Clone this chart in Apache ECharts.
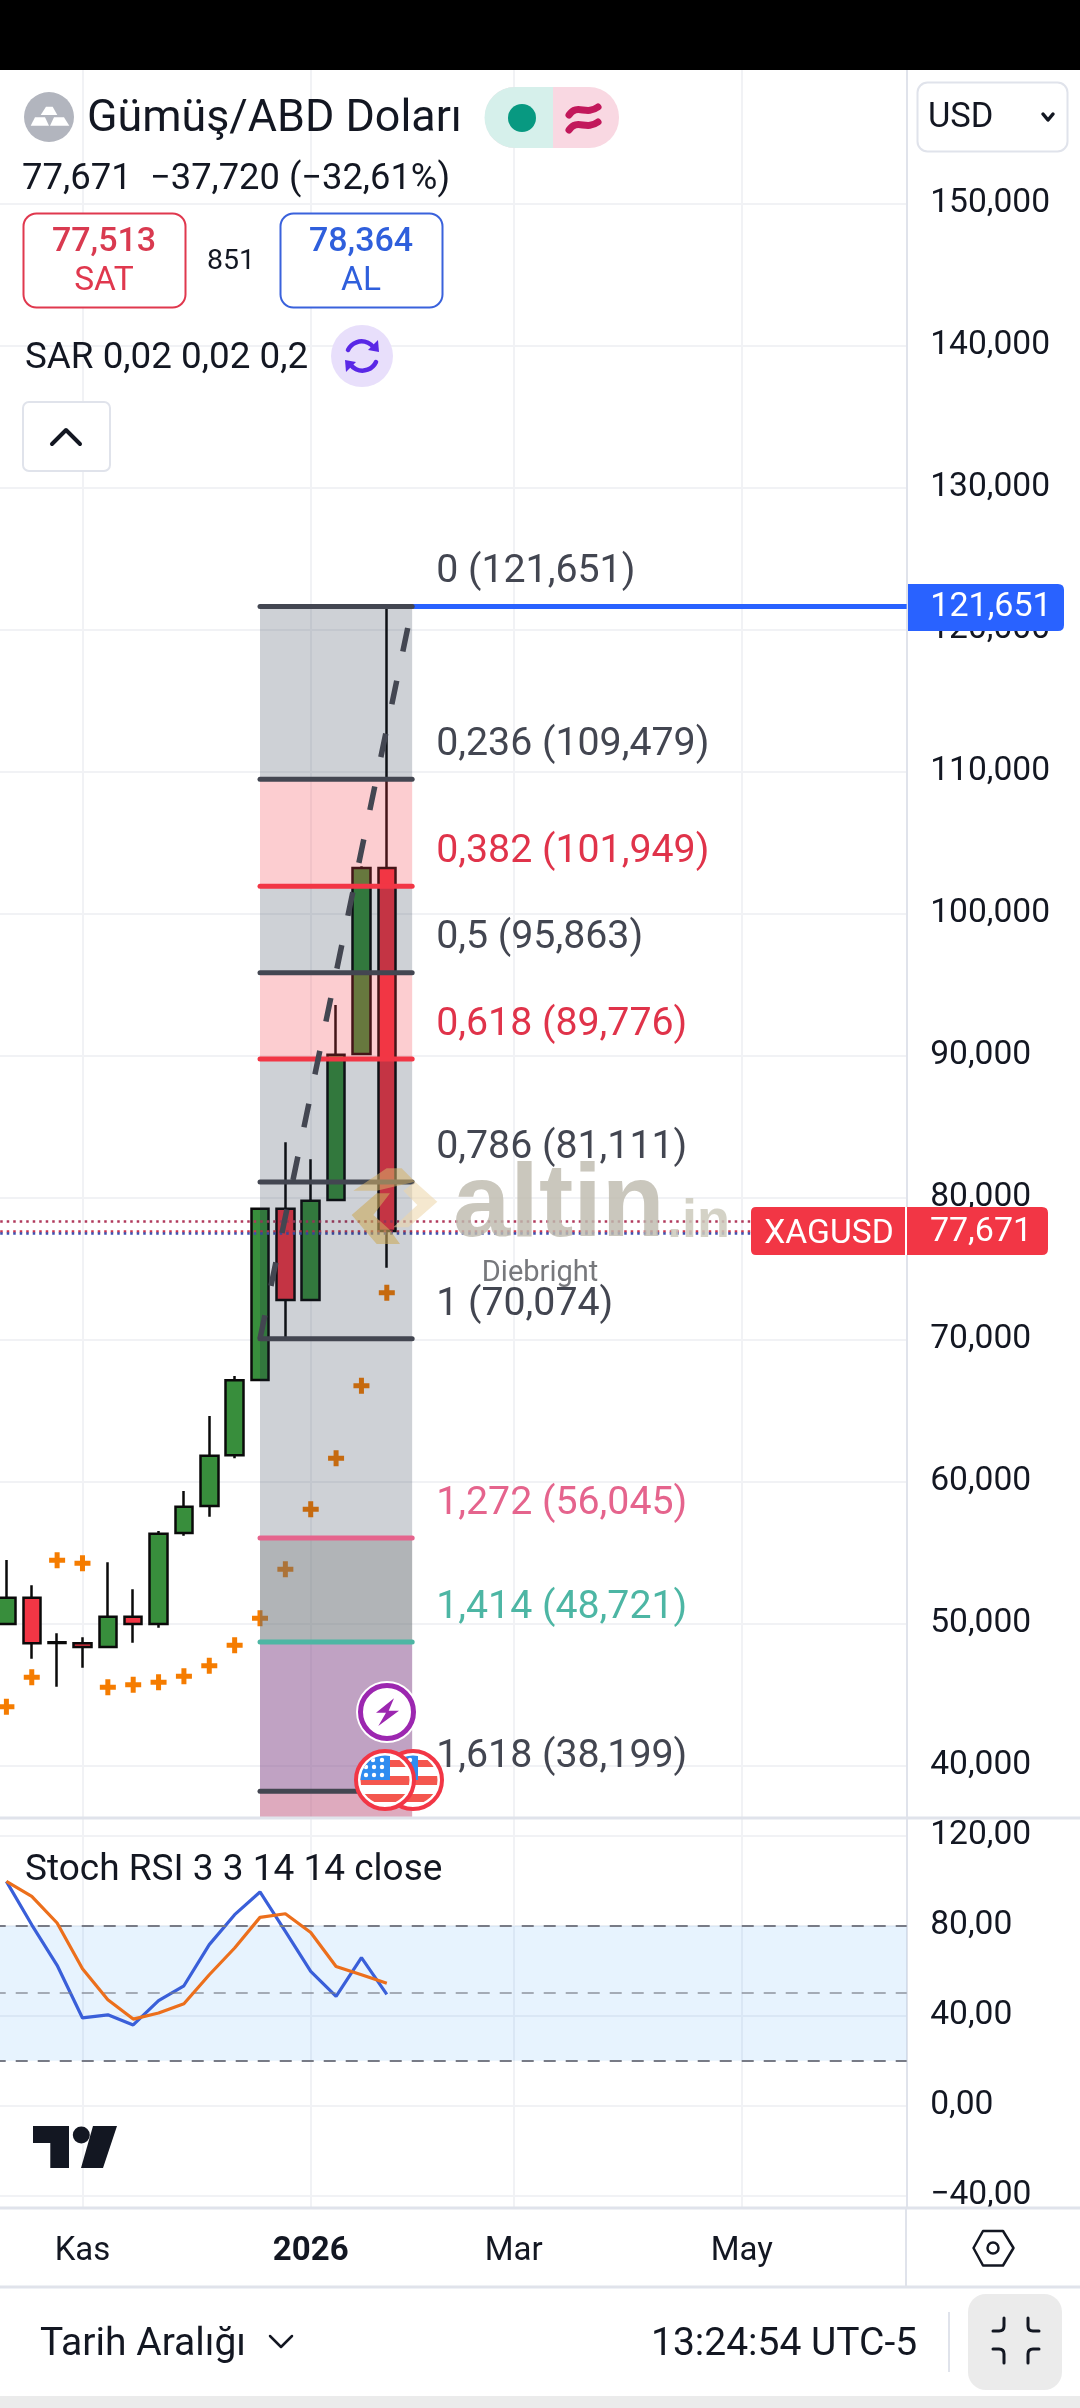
<!DOCTYPE html>
<html>
<head>
<meta charset="utf-8">
<style>html,body{margin:0;padding:0;background:#fff}#c{width:1080px;height:2408px}</style>
<script src="https://cdn.jsdelivr.net/npm/echarts@6/dist/echarts.min.js"></script>
</head>
<body>
<div id="c"></div>
<script>
// ---------- DATA ----------
const weeks = ['2025-10-12','2025-10-19','2025-10-26','2025-11-02','2025-11-09','2025-11-16','2025-11-23','2025-11-30','2025-12-07','2025-12-14','2025-12-21','2025-12-28','2026-01-04','2026-01-11','2026-01-18','2026-01-25','2026-02-01','2026-02-08','2026-02-15','2026-02-22','2026-03-01','2026-03-08','2026-03-15','2026-03-22','2026-03-29','2026-04-05','2026-04-12','2026-04-19','2026-04-26','2026-05-03','2026-05-10','2026-05-17','2026-05-24','2026-05-31','2026-06-07','2026-06-14'];
const xTickWeeks = ['2025-11-02','2026-01-04','2026-03-01','2026-05-03'];
const xTickLabels = ['Kas','2026','Mar','May'];
const opens  = [49.981,51.834,48.700,48.622,48.361,50.496,49.981,56.392,58.293,61.865,67.170,79.235,72.800,79.848,90.130,103.230];
const closes = [51.834,48.622,48.640,48.361,50.496,49.981,56.342,58.244,61.837,67.148,79.235,72.800,79.800,90.082,103.230,77.671];
const lows   = [49.981,47.537,45.565,46.903,48.361,48.665,49.721,56.201,57.540,61.653,67.170,70.074,72.800,79.848,90.130,75.080];
const highs  = [54.490,52.707,49.327,49.045,54.327,52.428,56.531,59.350,64.630,67.452,79.306,83.913,82.714,93.585,103.350,121.651];
const sar    = [44.156,46.227,54.468,54.257,45.523,45.706,45.875,46.298,47.044,48.481,50.383,53.834,58.062,61.653,66.767,73.320];
const stochK = [99.7,80.4,62.4,39.0,40.4,35.9,46.7,53.3,71.6,84.9,95.0,77.5,59.7,48.6,65.8,49.5];
const stochD = [99.7,93.0,81.2,60.9,47.1,38.5,41.2,45.3,58.2,70.1,83.7,85.3,77.0,61.9,58.2,54.4];
const priceTicks = [40,50,60,70,80,90,100,110,120,130,140,150];
const stochTicks = [-40,0,40,80,120];
const fibRatios = ['0','0,236','0,382','0,5','0,618','0,786','1','1,272','1,414','1,618'];
const fibPrices = [121.651,109.479,101.949,95.863,89.776,81.111,70.074,56.045,48.721,38.199];
const fibStartIdx = 10, fibEndIdx = 16;
const lastPrice = 77.671, askPrice = 78.364, bidPrice = 77.513;

// ---------- STYLE ----------
const FONT = 'Roboto';
const INK = '#131722', FIBGREY = '#434651', RED = '#f23645', BLUE = '#2962ff', GRID = '#f1f2f5', BORDER = '#e0e3eb';
const fibLineColors = [FIBGREY,FIBGREY,RED,FIBGREY,RED,FIBGREY,FIBGREY,'#e5648d','#4db6a4',FIBGREY];
const fibTextColors = [FIBGREY,FIBGREY,'#e0334a',FIBGREY,'#e0334a',FIBGREY,FIBGREY,'#e5648d','#4db6a4',FIBGREY];
const G='rgba(32,45,69,0.22)', P='rgba(242,54,69,0.25)';
const fibZoneColors = [G,P,G,P,G,G,G,'rgba(100,105,112,0.5)','rgba(130,70,135,0.5)','rgba(190,85,125,0.5)'];
const priceMin = 36.316, priceMax = 159.445, stochMin = -45.47, stochMax = 127.87;
const comma = (v,d) => v.toFixed(d).replace('.',',').replace('-','\u2212');

const cats = weeks;
const tickMap = {}; xTickWeeks.forEach((w,i)=>tickMap[w]=xTickLabels[i]);
const isTick = (i) => xTickWeeks.indexOf(weeks[i])>=0;

const flagSvg = 'data:image/svg+xml;charset=utf-8,' + encodeURIComponent(
 '<svg xmlns="http://www.w3.org/2000/svg" width="68" height="68" viewBox="0 0 68 68"><defs><clipPath id="c"><circle cx="34" cy="34" r="24.5"/></clipPath></defs>'+
 '<circle cx="34" cy="34" r="29" fill="#fff" stroke="#f23645" stroke-width="4"/><g clip-path="url(#c)">'+
 '<rect x="0" y="14" width="68" height="7" fill="#f4564e"/><rect x="0" y="30" width="68" height="9" fill="#f4564e"/><rect x="0" y="48" width="68" height="8" fill="#f4564e"/>'+
 '<rect x="0" y="0" width="39" height="34" fill="#2f8cf0"/>'+
 '<g fill="#fff"><circle cx="22" cy="14" r="2.2"/><circle cx="31" cy="14" r="2.2"/><circle cx="15" cy="21" r="2.2"/><circle cx="23" cy="21" r="2.2"/><circle cx="31" cy="21" r="2.2"/><circle cx="15" cy="29" r="2.2"/><circle cx="23" cy="29" r="2.2"/><circle cx="31" cy="29" r="2.2"/></g>'+
 '</g></svg>');

// ---------- HELPERS FOR PAGE CHROME ----------
const T=(text,x,y,size,fill,o={})=>({type:'text',z:o.z||100,x,y,silent:true,style:{text,fill,font:(o.weight||'normal')+' '+size+'px '+(o.family||FONT),textAlign:o.align||'left',textVerticalAlign:'middle',opacity:o.opacity==null?1:o.opacity}});
const R=(x,y,w,h,fill,o={})=>({type:'rect',z:o.z||90,silent:true,shape:{x,y,width:w,height:h,r:o.r||0},style:{fill:fill||'none',stroke:o.stroke||null,lineWidth:o.lw||0}});
const L=(x1,y1,x2,y2,stroke,lw,z)=>({type:'line',z:z||90,silent:true,shape:{x1,y1,x2,y2},style:{stroke,lineWidth:lw}});
const C=(cx,cy,r,fill,o={})=>({type:'circle',z:o.z||95,silent:true,shape:{cx,cy,r},style:{fill,stroke:o.stroke||null,lineWidth:o.lw||0}});
const PG=(pts,fill,z)=>({type:'polygon',z:z||95,silent:true,shape:{points:pts},style:{fill}});
let pathCount=0;
const pathType=(d)=>{const name='chromePath'+(pathCount++);echarts.graphic.registerShape(name,echarts.graphic.extendPath(d,{}));return name;};
const PH=(d,stroke,lw,z,fill)=>({type:pathType(d),z:z||95,silent:true,style:{stroke:stroke||null,lineWidth:lw||0,fill:fill||'none',lineCap:'round',lineJoin:'round'}});
const logoPts=a=>a.map(p=>[340+p[0]/3,1150+p[1]/3]);

const chrome=[
 // top status bar
 R(0,0,1080,70,'#000'),
 // separators
 L(0,1818,1080,1818,BORDER,3),L(0,2208,1080,2208,BORDER,3),L(0,2287,1080,2287,BORDER,3),L(906,2208,906,2287,BORDER,2),
 // header
 C(49,117,25,'#b2b5be'),
 PG([[46,106.7],[52.7,106.7],[57.3,115],[40.7,115]],'#fff',96),PG([[35,117.3],[45,117.3],[49,125.7],[30.7,125.7]],'#fff',96),PG([[54,117.3],[64,117.3],[69.3,125.7],[50,125.7]],'#fff',96),
 T('Gümüş/ABD Doları',87,120,44.8,INK),
 R(485,87,134,61,'#f9d8e2',{r:30}),
 PH('M553,87 H515 A30,30 0 0 0 515,148 H553 Z',null,0,91,'#d6f0eb'),
 C(522,118,14,'#089981'),
 PH('M569,115 C577,103 586,116 598,107','#c2185b',7),PH('M569,130 C577,118 586,131 598,122','#c2185b',7),
 T('77,671',22,180,36.5,INK),T('\u221237,720 (\u221232,61%)',150,180,36.3,INK),
 R(23.5,213.5,162,94,'#fff',{r:13,stroke:'#e0384e',lw:2}),
 T('77,513',104,242,34,'#d93a50',{align:'center',weight:'500'}),T('SAT',104,282,33.5,'#e0384e',{align:'center'}),
 T('851',231,262,28.5,INK,{align:'center'}),
 R(280.5,213.5,162,94,'#fff',{r:13,stroke:'#3a62dc',lw:2}),
 T('78,364',361,242,34,'#2f5fdc',{align:'center',weight:'500'}),T('AL',361,282,33.5,'#2f5fdc',{align:'center'}),
 T('SAR 0,02 0,02 0,2',25,359,36.8,INK),
 C(362,356,31,'#e8dffb'),
 PH('M348,350 A15,15 0 0 1 374,348','#5a28e6',4.5),PH('M376,362 A15,15 0 0 1 350,364','#5a28e6',4.5),
 PG([[378,340],[379,352],[368,350]],'#5a28e6'),PG([[346,372],[345,360],[356,362]],'#5a28e6'),
 R(23,402,87,69,'#fff',{r:6,stroke:BORDER,lw:2}),
 PH('M52,444 L66,430 L80,444',INK,4),
 // currency box
 R(917.5,82.5,150,69,'#fff',{r:10,stroke:BORDER,lw:2}),
 T('USD',928,118,34.5,INK),PH('M1043,114 L1048,120 L1053,114',INK,3.5),
 // indicator title + TradingView mark
 T('Stoch RSI 3 3 14 14 close',25,1871,37,INK),
 PG([[33,2126],[69,2126],[69,2168],[50.3,2168],[50.3,2143],[33,2143]],INK),C(81.3,2135,8.5,INK),PG([[93,2126],[117,2126],[103,2168],[81,2168]],INK),
 // settings icon
 PH('M983,2231 H1003 L1013.5,2248 L1003,2265.5 H983 L973.5,2248 Z',INK,2.5),
 C(993,2248,5.5,'none',{stroke:INK,lw:2.5}),
 // footer
 T('Tarih Aralığı',40,2345,39,INK),PH('M270,2336 L281,2347 L292,2336',INK,2.5),
 T('13:24:54 UTC-5',651,2345,39,INK),L(949,2312,949,2372,BORDER,2),
 R(968,2294,94,96,'#ebebeb',{r:18}),
 PH('M1004,2318 V2326 Q1004,2331 999,2331 H993',INK,3),PH('M1028,2318 V2326 Q1028,2331 1033,2331 H1039',INK,3),
 PH('M1004,2363 V2354 Q1004,2349 999,2349 H993',INK,3),PH('M1028,2363 V2354 Q1028,2349 1033,2349 H1039',INK,3),
 R(0,2396,1080,12,'#ebebeb'),
 // price labels
 PH('M908,584 H1058 Q1064,584 1064,590 V625 Q1064,631 1058,631 H908 Z',null,0,92,BLUE),
 T('121,651',991,607,34,'#fff',{align:'center',z:101}),
 PH('M751,1212 Q751,1207 756,1207 H1042 Q1048,1207 1048,1213 V1249 Q1048,1255 1042,1255 H756 Q751,1255 751,1250 Z',null,0,92,RED),
 L(906,1207,906,1255,'#fff',2,93),
 T('XAGUSD',829,1235,33.6,'#fff',{align:'center',z:101}),T('77,671',981,1232,34,'#fff',{align:'center',z:101}),
 // watermark
 PG(logoPts([[40,122],[140,55],[185,55],[225,95],[110,122]]),'rgba(214,178,105,0.55)',8),
 PG(logoPts([[225,95],[292,155],[205,232],[160,232],[232,165],[190,122]]),'rgba(236,214,168,0.55)',8),
 PG(logoPts([[35,195],[110,130],[150,130],[100,195],[150,240],[180,282],[110,282]]),'rgba(204,170,92,0.6)',8),
 T('altin',453,1208,103,'rgba(190,187,175,0.82)',{weight:'bold',family:'Liberation Sans',z:8}),
 T('.in',667,1222,54,'rgba(205,202,188,0.85)',{weight:'bold',family:'Liberation Sans',z:8}),
 T('Diebright',540,1274,29,'#77787c',{align:'center',z:8}),
 // event markers
 C(387,1712,31,'#fff',{z:94}),C(387,1712,26.5,'#fff',{stroke:'#9c27b0',lw:5}),
 PG([[394,1698.3],[376,1712.7],[386,1712.7],[378.3,1726],[399,1710.7],[388.7,1710.7]],'#9c27b0',96),
 {type:'image',z:94,silent:true,style:{image:flagSvg,x:379,y:1746,width:68,height:68}},
 {type:'image',z:95,silent:true,style:{image:flagSvg,x:351,y:1746,width:68,height:68}}
];

// ---------- CHART ----------
const chart = echarts.init(document.getElementById('c'),null,{renderer:'canvas',width:1080,height:2408});

const yAxisBase={type:'value',position:'right',scale:true,
 axisLine:{show:true,lineStyle:{color:BORDER,width:2}},axisPointer:{show:false}};

const plus='path://M2.75,0H5.25V2.75H8V5.25H5.25V8H2.75V5.25H0V2.75H2.75Z';

chart.setOption({
 animation:false,
 backgroundColor:'#ffffff',
 textStyle:{fontFamily:FONT},
 grid:[
  {left:-6.28,top:70,width:912.96,height:1748,outerBoundsMode:'none',containLabel:false},
  {left:-6.28,top:1818,width:912.96,height:390,outerBoundsMode:'none',containLabel:false}
 ],
 xAxis:[0,1].map(i=>({
  type:'category',gridIndex:i,data:cats,boundaryGap:true,
  axisLine:{show:false},axisTick:{show:false},
  axisLabel:i===0?{show:false}:{
    show:true,interval:(idx)=>isTick(idx),margin:27,fontFamily:FONT,fontSize:33,color:INK,
    formatter:(v)=>{const s=tickMap[v]||'';return s==='2026'?'{b|'+s+'}':s;},
    rich:{b:{fontWeight:'bold',fontSize:33,color:INK,fontFamily:FONT}}
  },
  splitLine:{show:true,alignWithLabel:true,interval:(idx)=>isTick(idx),lineStyle:{color:GRID,width:2}}
 })),
 yAxis:[
  Object.assign({},yAxisBase,{gridIndex:0,min:priceMin,max:priceMax,
    axisTick:{show:false,customValues:priceTicks},
    axisLabel:{customValues:priceTicks,align:'left',margin:23.5,fontFamily:FONT,fontSize:33.6,color:INK,padding:[3,0,0,0],formatter:v=>comma(v,3)},
    splitLine:{show:true,lineStyle:{color:GRID,width:2}}}),
  Object.assign({},yAxisBase,{gridIndex:1,min:stochMin,max:stochMax,
    axisTick:{show:false,customValues:stochTicks},
    axisLabel:{customValues:stochTicks,align:'left',margin:23.5,fontFamily:FONT,fontSize:33.6,color:INK,padding:[5,0,0,0],formatter:v=>comma(v,2)},
    splitLine:{show:true,lineStyle:{color:GRID,width:2}}})
 ],
 series:[
  {type:'candlestick',name:'XAGUSD',xAxisIndex:0,yAxisIndex:0,z:3,barWidth:18,
   data:opens.map((o,i)=>[o,closes[i],lows[i],highs[i]]),
   itemStyle:{color:'#388e3c',color0:RED,borderColor:'#0a0a0a',borderColor0:'#0a0a0a',borderWidth:2.5},
   markLine:{silent:true,symbol:'none',label:{show:false},animation:false,
    data:[
     {yAxis:askPrice,lineStyle:{color:'#b03a5c',type:[2.5,4],width:2.5}},
     {yAxis:lastPrice,lineStyle:{color:'#c7344e',type:[2.5,4],width:2.5}},
     {yAxis:bidPrice,lineStyle:{color:'#3d4fb0',type:[2.5,4],width:2.5}}
    ]}
  },
  {type:'scatter',name:'SAR',xAxisIndex:0,yAxisIndex:0,z:4,symbol:plus,symbolSize:16,
   data:sar.map((v,i)=>[i,v]),itemStyle:{color:'#f57c00',opacity:1}},
  // Fibonacci zones (drawn over the candles, translucent)
  {type:'custom',name:'FibZones',xAxisIndex:0,yAxisIndex:0,z:5,silent:true,
   data:fibPrices.map((p,i)=>[fibStartIdx,p,i]),encode:{x:0,y:1},clip:true,
   renderItem:(params,api)=>{
     const i=api.value(2);
     const top=api.coord([fibStartIdx,api.value(1)]);
     const nextV=i+1<fibPrices.length?fibPrices[i+1]:priceMin;
     const bot=api.coord([fibEndIdx,nextV]);
     return {type:'rect',shape:{x:top[0],y:top[1],width:bot[0]-top[0],height:bot[1]-top[1]},style:{fill:fibZoneColors[i]}};
   }},
  // Fibonacci levels + labels
  {type:'custom',name:'FibLevels',xAxisIndex:0,yAxisIndex:0,z:7,silent:true,
   data:fibPrices.map((p,i)=>[fibStartIdx,p,i]),encode:{x:0,y:1},
   renderItem:(params,api)=>{
     const i=api.value(2),v=api.value(1);
     const a=api.coord([fibStartIdx,v]),b=api.coord([fibEndIdx,v]);
     const kids=[
       {type:'line',shape:{x1:a[0],y1:a[1],x2:b[0],y2:b[1]},style:{stroke:fibLineColors[i],lineWidth:5,lineCap:'round'}},
       {type:'text',x:b[0]+24,y:a[1]-34,style:{text:fibRatios[i]+' ('+comma(v,3)+')',fill:fibTextColors[i],font:'39.3px '+FONT,textVerticalAlign:'middle'}}
     ];
     if(i===0){const cs=params.coordSys;kids.unshift({type:'line',shape:{x1:b[0],y1:b[1],x2:cs.x+cs.width,y2:b[1]},style:{stroke:BLUE,lineWidth:5}});}
     return {type:'group',children:kids};
   }},
  // Fibonacci trend line
  {type:'line',name:'FibTrend',xAxisIndex:0,yAxisIndex:0,z:7,silent:true,symbol:'none',
   data:[[fibStartIdx,fibPrices[6]],[fibEndIdx,fibPrices[0]]],
   lineStyle:{color:FIBGREY,width:5.5,type:[24,30]}},
  // Stoch RSI
  {type:'line',name:'%K',xAxisIndex:1,yAxisIndex:1,z:4,symbol:'none',data:stochK,
   lineStyle:{color:'#3a5fd9',width:3.2},
   markArea:{silent:true,animation:false,itemStyle:{color:'rgba(33,150,243,0.11)'},data:[[{yAxis:80},{yAxis:20}]]},
   markLine:{silent:true,animation:false,symbol:'none',label:{show:false},
     data:[
       {yAxis:80,lineStyle:{color:'#787b86',type:[12,10],width:2}},
       {yAxis:50,lineStyle:{color:'rgba(120,123,134,0.6)',type:[12,10],width:2}},
       {yAxis:20,lineStyle:{color:'#787b86',type:[12,10],width:2}}
     ]}},
  {type:'line',name:'%D',xAxisIndex:1,yAxisIndex:1,z:5,symbol:'none',data:stochD,
   lineStyle:{color:'#ec6f1c',width:3.2}}
 ],
 graphic:{elements:chrome}
});
</script>
</body>
</html>
